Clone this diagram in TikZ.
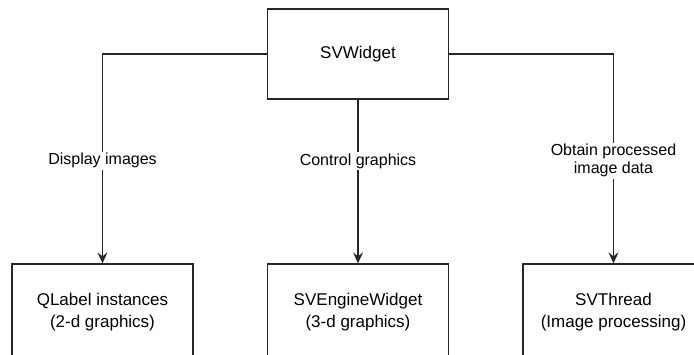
\documentclass[tikz,border=0pt]{standalone}
\usepackage{fontspec}
\setmainfont{Liberation Sans}
\usetikzlibrary{arrows.meta}
\begin{document}
\begin{tikzpicture}[x=1pt,y=-1pt,
  box/.style={draw=black!85,line width=1.3pt,minimum width=181pt,minimum height=90pt,
    inner sep=0pt,align=center,font=\fontsize{17}{22}\selectfont},
  low/.style={box,minimum height=96pt},
  link/.style={draw=black!85,line width=1.3pt},
  arr/.style={link,-{Stealth[length=11pt,width=10pt,inset=4pt]}},
  tag/.style={fill=white,inner sep=1.5pt,align=center,font=\fontsize{16}{18}\selectfont}]
  \useasboundingbox (0,0) rectangle (694,354);
  \clip (0,0) rectangle (694,354);
  % main widget and the three components below it
  \node[box] (sv) at (358,54) {SVWidget};
  \node[low] (ql) at (102.5,312) {QLabel instances\\(2-d graphics)};
  \node[low] (eng) at (358,312) {SVEngineWidget\\(3-d graphics)};
  \node[low] (thr) at (613.5,312) {SVThread\\(Image processing)};
  % connectors
  \draw[arr] (sv.west) -| (ql.north) node[tag,pos=0.755] {Display images};
  \draw[arr] (sv.south) -- (eng.north) node[tag,pos=0.376] {Control graphics};
  \draw[arr] (sv.east) -| (thr.north) node[tag,pos=0.755] {Obtain processed\\image data};
\end{tikzpicture}
\end{document}
